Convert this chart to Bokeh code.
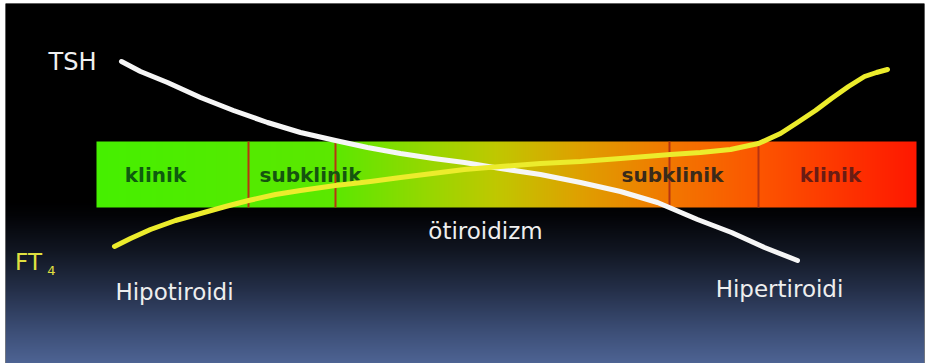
import numpy as np
from bokeh.plotting import figure
from bokeh.models import Range1d
from bokeh.embed import file_html
from bokeh.resources import INLINE
from bokeh.core.properties import value

# Thyroid function spectrum: hypothyroid (left) -> hyperthyroid (right)
zone_edges = [0, 152, 239, 573, 662, 820]
zone_labels = ["klinik", "subklinik", "subklinik", "klinik"]
zone_label_x = [59, 214, 576, 734]
bar_bottom, bar_top = 156, 222

# TSH level along the spectrum (falls as function rises)
tsh_x = [25, 44, 71, 104, 137, 171, 204, 239, 271, 304, 337, 368, 404, 444,
         484, 524, 561, 601, 635, 668, 701]
tsh_y = [302, 292, 281, 266, 253, 241, 231, 223, 216, 210, 205, 201, 195, 189,
         181, 172, 161, 144, 131, 116, 103]

# Free T4 level along the spectrum (rises with function)
ft4_x = [18, 34, 54, 79, 104, 129, 152, 179, 204, 239, 274, 304, 336, 368, 404,
         444, 484, 524, 574, 604, 634, 662, 684, 701, 719, 735, 752, 768, 780, 791]
ft4_y = [117, 125, 134, 143, 150, 157, 163, 169, 173, 178, 182, 186, 190, 194, 197,
         200, 202, 205, 209, 211, 214, 220, 230, 241, 253, 265, 277, 287, 291, 294]

W, H = 928, 363
p = figure(width=W, height=H, output_backend="svg", toolbar_location=None,
           x_range=Range1d(-91, 828), y_range=Range1d(0, 360),
           x_axis_location=None, y_axis_location=None,
           min_border_left=5, min_border_right=4, min_border_top=3, min_border_bottom=0,
           border_fill_color="white", background_fill_color="black",
           outline_line_color=None)
p.grid.visible = False


def gradient(stops, n):
    pos = np.array([s[0] for s in stops], dtype=float)
    cols = np.array([s[1] for s in stops], dtype=float)
    t = np.linspace(pos[0], pos[-1], n)
    return np.stack([np.interp(t, pos, cols[:, k]) for k in range(3)], axis=1)


def pack(rgb_rows):
    h, w, _ = rgb_rows.shape
    a = np.empty((h, w, 4), dtype=np.uint8)
    a[..., :3] = np.clip(rgb_rows, 0, 255).astype(np.uint8)
    a[..., 3] = 255
    return a.view(dtype=np.uint32).reshape(h, w)


# backdrop: black top fading to slate blue at the bottom (rows from bottom up)
bg_stops = [(0, (78, 100, 148)), (33, (60, 78, 118)), (73, (37, 48, 74)),
            (113, (17, 22, 34)), (148, (3, 4, 7)), (163, (0, 0, 0)), (360, (0, 0, 0))]
bg = gradient(bg_stops, 360)
bg_img = pack(np.repeat(bg[:, None, :], 2, axis=1))
p.image_rgba(image=[bg_img], x=-91, y=0, dw=919, dh=360)

# spectrum bar: green -> yellow -> orange -> red
bar_stops = [(0, (70, 240, 0)), (239, (92, 232, 0)), (330, (150, 216, 0)),
             (400, (192, 200, 0)), (480, (222, 162, 0)), (573, (242, 120, 0)),
             (662, (252, 86, 0)), (820, (255, 24, 0))]
bar = gradient(bar_stops, 820)
bar_img = pack(np.repeat(bar[None, :, :], 2, axis=0))
p.image_rgba(image=[bar_img], x=zone_edges[0], y=bar_bottom,
             dw=zone_edges[-1] - zone_edges[0], dh=bar_top - bar_bottom)

# zone dividers
inner = zone_edges[1:-1]
p.segment(x0=inner, y0=[bar_bottom] * len(inner), x1=inner, y1=[bar_top] * len(inner),
          line_color="#b83410", line_width=2)

# zone captions inside the bar
label_colors = ["#0e5c0e", "#15540f", "#3a2a1a", "#6a1c14"]
p.text(x=zone_label_x, y=[(bar_bottom + bar_top) / 2] * 4, text=zone_labels,
       text_color=label_colors, text_font=value("DejaVu Sans"), text_font_style="bold",
       text_font_size="20px", text_align="center", text_baseline="middle")

# hormone curves
p.line(tsh_x, tsh_y, line_color="#f6f6f6", line_width=5, line_cap="round", line_join="round")
p.line(ft4_x, ft4_y, line_color="#ecec2c", line_width=5, line_cap="round", line_join="round")

# annotations
font = value("DejaVu Sans")
p.text(x=[-24], y=[302], text=["TSH"], text_color="#f0f0f0", text_font=font,
       text_font_size="24px", text_align="center", text_baseline="middle")
p.text(x=[-68], y=[102], text=["FT"], text_color="#e0e040", text_font=font,
       text_font_size="23px", text_align="center", text_baseline="middle")
p.text(x=[-45], y=[93], text=["4"], text_color="#e0e040", text_font=font,
       text_font_size="13px", text_align="center", text_baseline="middle")
p.text(x=[78, 683, 389], y=[72, 75, 133], text=["Hipotiroidi", "Hipertiroidi", "ötiroidizm"],
       text_color="#eeeeee", text_font=font, text_font_size="23px",
       text_align="center", text_baseline="middle")

open("out.html", "w").write(file_html(p, INLINE))
